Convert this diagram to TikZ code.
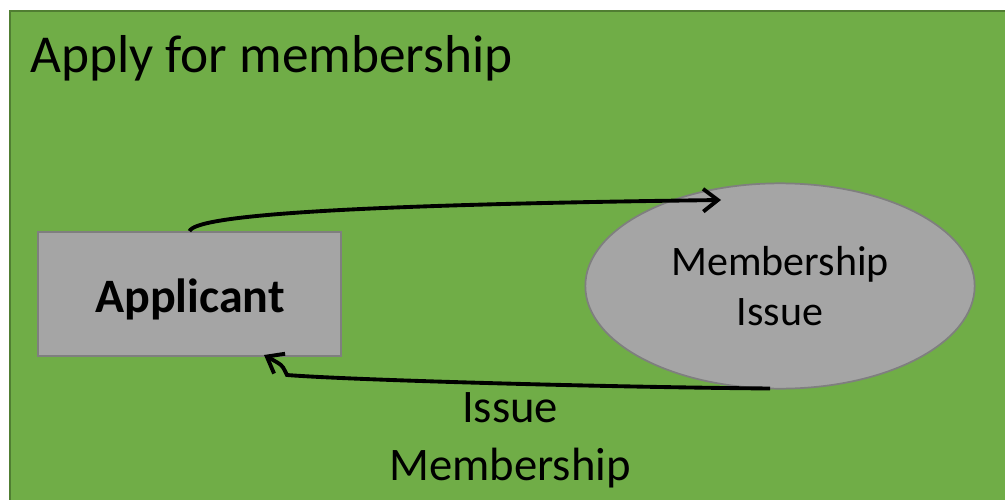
\documentclass[tikz,border=0pt]{standalone}
\usepackage{fontspec}
\setmainfont{Carlito}
\usetikzlibrary{arrows.meta, positioning, shapes}
\definecolor{bggreen}{HTML}{70AD47}
\definecolor{bgedge}{HTML}{507E32}
\definecolor{boxgray}{HTML}{A5A5A5}
\definecolor{boxedge}{HTML}{7F7F7F}

\begin{document}
\begin{tikzpicture}[x=0.75pt, y=-0.75pt,
  flow/.style={line width=2.9pt, -{Straight Barb[length=11pt, width=17pt, line width=2.9pt]}},
  entity/.style={draw=boxedge, line width=1.3pt, fill=boxgray, minimum width=227pt, minimum height=93pt, inner sep=0pt},
  process/.style={ellipse, draw=boxedge, line width=1.3pt, fill=boxgray, minimum width=292pt, minimum height=154pt, inner sep=0pt}]
\useasboundingbox (0,0) rectangle (1005,499);
\clip (0,0) rectangle (1005,499);

% Background
\draw[fill=bggreen, draw=bgedge, line width=2pt] (10,11) rectangle (1020,520);
\node[anchor=base west, inner sep=0pt, font=\fontsize{40}{48}\selectfont] (title) at (30,73) {Apply for membership};

% Applicant and process
\node[entity] (app) at (189.5,294) {};
\node[font=\fontsize{36}{42}\selectfont\bfseries] (applbl) at (190,299.5) {Applicant};
\node[process, align=center, font=\fontsize{31.5}{38}\selectfont] (iss) at (780,286) {Membership\\Issue};

% Flows
\coordinate (tophead) at (721,200);
\coordinate (botstart) at (770,388.5);
\coordinate (bothead) at (264,355);
\coordinate (botbend) at (287,375);
\draw[flow] (app.north) .. controls (196,216) and (330,205) .. (tophead);
\draw[flow] (botstart) .. controls (600,387) and (350,380) .. (botbend) -- (285,371) .. controls (282,365) .. (bothead);
\node[align=center, font=\fontsize{35}{43.5}\selectfont] (lbl) at (510,440) {Issue\\Membership};
\end{tikzpicture}
\end{document}
